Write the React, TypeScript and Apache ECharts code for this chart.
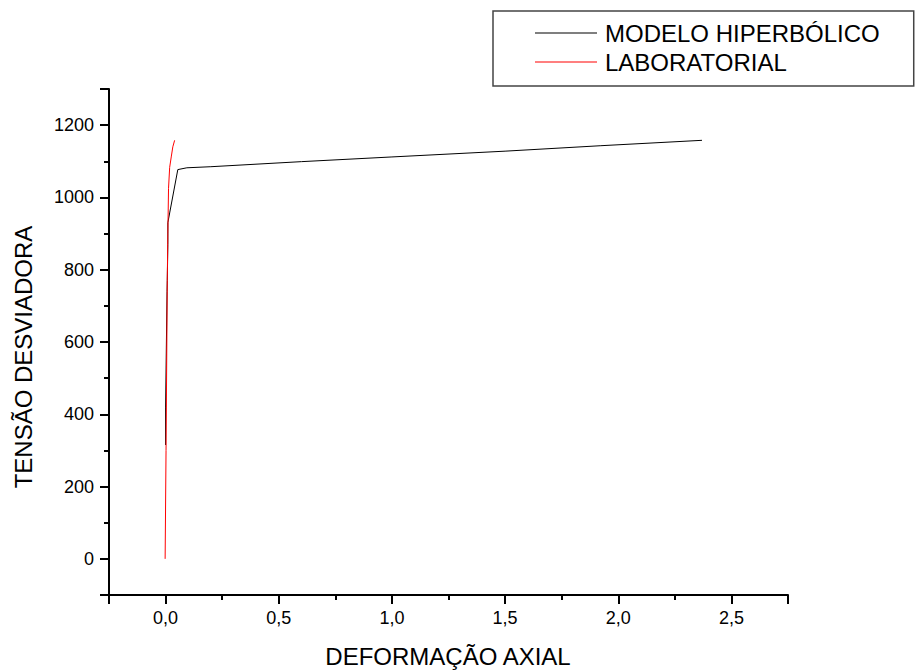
import React, { useEffect, useRef } from "react";
import * as echarts from "echarts";

// MODELO HIPERBÓLICO: deformação axial x tensão desviadora
const modeloStrain = [0.0, 0.0, 0.0065, 0.0075, 0.01, 0.01, 0.018, 0.054, 0.094, 0.2, 0.6, 1.0, 1.5, 1.92, 2.37];
const modeloStress = [315, 420, 740, 770, 870, 930, 957, 1077, 1082, 1085, 1099, 1112, 1128, 1143, 1158];

// LABORATORIAL: ensaio triaxial
const labStrain = [-0.002, 0.002, 0.005, 0.0075, 0.01, 0.013, 0.018, 0.025, 0.032, 0.04];
const labStress = [0, 300, 550, 771, 900, 1025, 1083, 1112, 1140, 1158];

const seriesNames = ["MODELO HIPERBÓLICO", "LABORATORIAL"];
const xTitle = "DEFORMAÇÃO AXIAL";
const yTitle = "TENSÃO DESVIADORA";

const FONT = "Arial, 'Liberation Sans', sans-serif";

const pairs = (xs: number[], ys: number[]) => xs.map((x, i) => [x, ys[i]]);

export default function App() {
  const ref = useRef<HTMLDivElement>(null);

  useEffect(() => {
    if (!ref.current) return;
    const chart = echarts.init(ref.current, undefined, { renderer: "svg" });

    const axisCommon = {
      type: "value" as const,
      axisLine: { show: true, onZero: false, lineStyle: { color: "#000", width: 2 } },
      axisTick: { show: true, inside: false, length: 9, lineStyle: { color: "#000", width: 2 } },
      minorTick: { show: true, splitNumber: 2, length: 5, lineStyle: { color: "#000", width: 2 } },
      splitLine: { show: false },
      minorSplitLine: { show: false },
    };

    chart.setOption({
      animation: false,
      backgroundColor: "#fff",
      grid: { left: 109, right: 127, top: 89, bottom: 75, containLabel: false },
      legend: {
        orient: "vertical",
        left: 493,
        top: 11,
        padding: [10, 34, 12, 42],
        borderColor: "#444",
        borderWidth: 1.5,
        icon: "rect",
        itemWidth: 62,
        itemHeight: 1.2,
        itemGap: 5,
        textStyle: { fontSize: 24, fontFamily: FONT, color: "#000", padding: [0, 0, 0, 3] },
        data: seriesNames,
      },
      xAxis: {
        ...axisCommon,
        min: -0.25,
        max: 2.75,
        splitNumber: 6,
        axisLabel: {
          fontSize: 18,
          fontFamily: FONT,
          color: "#000",
          margin: 14,
          showMinLabel: false,
          showMaxLabel: false,
          formatter: (v: number) => v.toFixed(1).replace(".", ","),
        },
      },
      yAxis: {
        ...axisCommon,
        min: -100,
        max: 1300,
        splitNumber: 7,
        axisLabel: {
          fontSize: 18,
          fontFamily: FONT,
          color: "#000",
          margin: 15,
          showMinLabel: false,
          showMaxLabel: false,
          formatter: (v: number) => String(v),
        },
      },
      series: [
        {
          name: seriesNames[0],
          type: "line",
          data: pairs(modeloStrain, modeloStress),
          symbol: "none",
          lineStyle: { color: "#000", width: 1 },
          itemStyle: { color: "#000" },
          z: 2,
        },
        {
          name: seriesNames[1],
          type: "line",
          data: pairs(labStrain, labStress),
          symbol: "none",
          lineStyle: { color: "#ff0000", width: 1 },
          itemStyle: { color: "#ff0000" },
          z: 3,
        },
      ],
      graphic: [
        {
          type: "text",
          x: 448,
          y: 656,
          style: {
            text: xTitle,
            fontSize: 24,
            fontFamily: FONT,
            fill: "#000",
            align: "center",
            verticalAlign: "middle",
          },
        },
        {
          type: "text",
          x: 23,
          y: 357,
          rotation: Math.PI / 2,
          style: {
            text: yTitle,
            fontSize: 24,
            fontFamily: FONT,
            fill: "#000",
            align: "center",
            verticalAlign: "middle",
          },
        },
      ],
    });

    return () => chart.dispose();
  }, []);

  return (
    <div
      ref={ref}
      style={{ position: "fixed", left: 0, top: 0, width: 915, height: 670, background: "#fff" }}
    />
  );
}
